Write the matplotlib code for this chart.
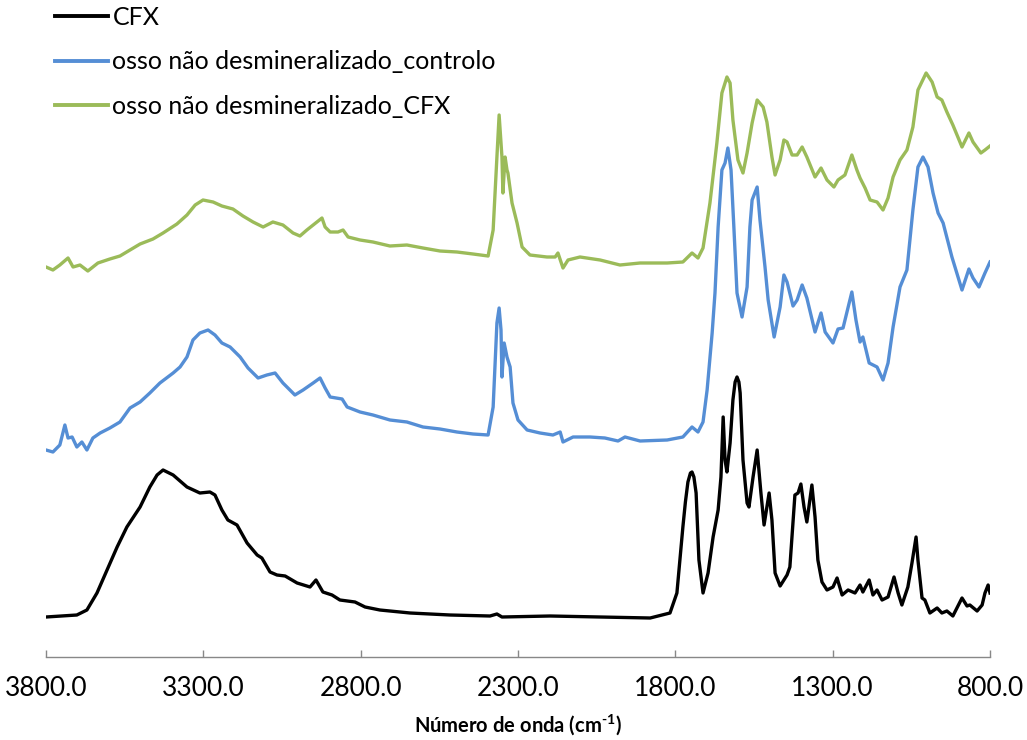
import matplotlib
matplotlib.use("Agg")
import matplotlib.pyplot as plt

# ---------------- data (wavenumber in cm-1, absorbance in arbitrary units) -------------
cfx_wn = [3800, 3702, 3670, 3638, 3606, 3574, 3543, 3501, 3470, 3447, 3428, 3396, 3352, 3311,
          3279, 3263, 3241, 3222, 3193, 3161, 3129, 3114, 3088, 3066, 3040, 3002, 2961, 2942,
          2920, 2891, 2866, 2818, 2786, 2739, 2643, 2516, 2389, 2367, 2351, 2198, 2039, 1880,
          1817, 1795, 1776, 1768, 1760, 1752, 1747, 1741, 1734, 1725, 1712, 1696, 1680, 1664, 1655, 1648, 1642,
          1636, 1626, 1617, 1610, 1604, 1598, 1594, 1585, 1572, 1566, 1553, 1540, 1528, 1518, 1502, 1493,
          1483, 1467, 1445, 1436, 1420, 1410, 1401, 1391, 1382, 1366, 1356, 1347, 1334, 1318,
          1299, 1286, 1270, 1251, 1229, 1213, 1204, 1184, 1172, 1159, 1143, 1124, 1105, 1092,
          1080, 1061, 1048, 1035, 1029, 1016, 1007, 991, 968, 953, 937, 918, 889, 873, 864,
          841, 825, 816, 806, 800]
cfx_ab = [7.0, 7.4, 8.4, 11.8, 16.4, 21.0, 25.0, 29.0, 33.0, 35.4, 36.4, 35.4, 33.0, 31.8,
          32.0, 31.4, 28.4, 26.4, 25.4, 21.8, 19.4, 18.8, 16.0, 15.4, 15.2, 13.8, 13.0, 14.4,
          12.0, 11.4, 10.4, 10.0, 9.0, 8.4, 7.8, 7.4, 7.2, 7.6, 7.0, 7.2, 7.0, 6.8,
          7.8, 11.8, 25.0, 30.0, 34.0, 35.8, 36.0, 35.0, 31.8, 18.4, 11.8, 15.8, 23.0, 28.4, 35.0, 47.0, 38.4,
          36.0, 41.8, 50.4, 54.0, 55.0, 54.0, 51.8, 38.4, 29.8, 29.0, 35.0, 40.4, 31.8, 25.4, 31.8, 26.4,
          15.8, 13.2, 15.4, 17.0, 31.4, 31.8, 33.6, 29.0, 26.0, 33.4, 27.0, 18.4, 14.0, 12.4,
          13.0, 14.8, 11.4, 12.4, 11.8, 13.4, 12.0, 14.4, 11.4, 12.4, 10.4, 11.0, 15.0, 11.8,
          9.4, 13.0, 17.8, 23.0, 18.4, 10.8, 10.4, 7.8, 8.8, 7.8, 8.2, 7.2, 10.8, 9.2, 9.4,
          8.2, 9.4, 11.8, 13.4, 11.8]

ctrl_wn = [3800, 3778, 3756, 3740, 3730, 3717, 3702, 3686, 3670, 3651, 3628, 3597, 3565, 3533,
           3501, 3470, 3438, 3396, 3374, 3352, 3333, 3311, 3285, 3263, 3241, 3215, 3183, 3158,
           3126, 3098, 3072, 3047, 3009, 2983, 2951, 2929, 2913, 2897, 2859, 2843, 2802, 2761,
           2707, 2653, 2602, 2548, 2494, 2443, 2395, 2379, 2367, 2360, 2354, 2351, 2344, 2335,
           2325, 2316, 2300, 2271, 2230, 2189, 2166, 2157, 2125, 2071, 2024, 1982, 1960, 1912,
           1826, 1776, 1747, 1728, 1712, 1699, 1683, 1674, 1664, 1652, 1642, 1633, 1623, 1614,
           1604, 1588, 1572, 1563, 1556, 1540, 1531, 1515, 1505, 1486, 1467, 1455, 1445, 1426,
           1413, 1397, 1382, 1356, 1337, 1324, 1299, 1283, 1267, 1239, 1226, 1213, 1204, 1184,
           1159, 1140, 1124, 1108, 1086, 1064, 1045, 1029, 1013, 997, 981, 965, 949, 921, 889,
           867, 854, 835, 816, 800]
ctrl_ab = [40.4, 40.0, 41.4, 45.4, 42.8, 43.0, 41.0, 42.0, 40.4, 42.8, 43.8, 44.8, 46.0, 48.8,
           50.0, 51.8, 53.8, 55.8, 57.0, 59.0, 62.4, 63.8, 64.4, 63.4, 61.8, 61.0, 59.0, 56.8,
           54.8, 55.4, 55.8, 53.8, 51.4, 52.4, 53.8, 54.8, 52.8, 51.0, 50.6, 49.0, 48.0, 47.4,
           46.4, 46.0, 45.0, 44.6, 44.0, 43.6, 43.4, 49.0, 65.8, 68.8, 64.4, 55.0, 61.8, 59.0,
           57.0, 49.8, 46.4, 44.4, 43.8, 43.4, 44.0, 42.0, 43.0, 43.0, 42.8, 42.2, 43.0, 42.2,
           42.4, 43.0, 45.0, 44.0, 46.0, 52.4, 63.8, 71.8, 85.0, 96.4, 97.8, 100.8, 96.4, 85.0,
           71.8, 67.0, 73.0, 85.0, 90.4, 93.0, 86.4, 77.0, 70.4, 63.0, 69.0, 75.4, 74.0, 69.2,
           70.4, 73.4, 70.8, 64.0, 67.8, 64.0, 61.8, 64.6, 64.8, 72.0, 66.4, 62.0, 63.0, 57.8,
           57.0, 54.4, 57.8, 65.0, 73.0, 76.4, 88.4, 97.0, 99.0, 97.0, 91.8, 87.8, 85.8, 79.0, 72.4,
           76.6, 74.8, 73.0, 75.8, 78.0]

cfxb_wn = [3800, 3778, 3756, 3730, 3714, 3692, 3667, 3635, 3597, 3565, 3533, 3501, 3460, 3428,
           3384, 3352, 3326, 3301, 3269, 3241, 3206, 3174, 3142, 3110, 3079, 3047, 3015, 2993,
           2971, 2939, 2923, 2913, 2897, 2872, 2856, 2840, 2802, 2761, 2707, 2653, 2602, 2548,
           2494, 2443, 2395, 2379, 2367, 2360, 2351, 2348, 2341, 2335, 2332, 2319, 2303, 2287,
           2262, 2208, 2182, 2173, 2157, 2141, 2103, 2039, 1976, 1912, 1826, 1776, 1747, 1728,
           1712, 1690, 1668, 1652, 1636, 1626, 1617, 1601, 1585, 1572, 1556, 1540, 1521, 1509,
           1493, 1483, 1467, 1455, 1445, 1429, 1413, 1397, 1382, 1356, 1337, 1318, 1296, 1283,
           1261, 1239, 1223, 1213, 1197, 1181, 1159, 1140, 1124, 1108, 1086, 1064, 1045, 1029,
           1003, 984, 968, 953, 937, 918, 889, 867, 854, 829, 816, 800]
cfxb_ab = [77.0, 76.4, 77.4, 78.8, 77.0, 77.4, 76.2, 77.8, 78.6, 79.2, 80.4, 81.6, 82.6, 83.8,
           85.6, 87.4, 89.4, 90.4, 90.0, 89.2, 88.6, 87.2, 86.0, 85.0, 86.0, 85.4, 83.8, 83.2,
           84.4, 86.0, 86.8, 85.0, 84.0, 84.0, 84.4, 83.0, 82.4, 82.0, 81.2, 81.4, 80.8, 80.2,
           80.0, 79.6, 79.2, 84.4, 99.0, 107.4, 99.0, 91.8, 99.0, 96.4, 95.8, 89.8, 85.8, 81.0,
           79.4, 79.0, 79.0, 79.8, 76.8, 78.4, 79.0, 78.4, 77.4, 77.8, 77.8, 78.0, 79.8, 78.8,
           80.8, 89.8, 101.8, 111.8, 115.0, 113.8, 106.4, 98.4, 95.8, 99.8, 105.8, 110.4, 109.0, 106.0,
           99.0, 95.4, 98.4, 102.4, 102.0, 99.4, 99.4, 101.0, 99.0, 95.0, 96.8, 94.4, 93.0, 94.4,
           95.4, 99.4, 96.4, 94.8, 92.8, 90.4, 90.0, 88.4, 90.8, 95.0, 98.4, 100.4, 105.0, 112.4,
           115.8, 114.0, 111.0, 110.4, 108.0, 105.4, 101.0, 103.8, 102.0, 99.8, 100.4, 101.2]

series_names = ["CFX", "osso não desmineralizado_controlo", "osso não desmineralizado_CFX"]
series_colors = ["#000000", "#558ED5", "#9BBB59"]
x_ticks = [3800, 3300, 2800, 2300, 1800, 1300, 800]
x_label = r"Número de onda (cm$^{\text{-1}}$)"

# ---------------- figure -------------
plt.rcParams['font.family'] = ['Lato', 'DejaVu Sans']
plt.rcParams['mathtext.fontset'] = 'custom'
plt.rcParams['mathtext.rm'] = 'Lato:bold'
plt.rcParams['mathtext.default'] = 'rm'

W, H = 1027, 740
fig = plt.figure(figsize=(W / 100, H / 100), dpi=100)
ax = fig.add_axes([46 / W, (H - 657) / H, (990 - 46) / W, (657 - 2) / H])

for wn, ab, name, col in zip([cfx_wn, ctrl_wn, cfxb_wn], [cfx_ab, ctrl_ab, cfxb_ab],
                             series_names, series_colors):
    ax.plot(wn, ab, color=col, lw=2.4, label=name, solid_joinstyle='round')

ax.set_xlim(3800, 800)
ax.set_ylim(-1, 130)
ax.set_xticks(x_ticks)
ax.set_xticklabels([f"{v:.1f}" for v in x_ticks], fontsize=19)
ax.set_yticks([])
for s in ['top', 'right', 'left']:
    ax.spines[s].set_visible(False)
ax.spines['bottom'].set_color('#888888')
ax.spines['bottom'].set_linewidth(1.0)
ax.tick_params(axis='x', direction='in', length=5, width=1.0, color='#888888', pad=14)
ax.set_xlabel(x_label, fontsize=14.5, fontweight='bold', labelpad=8)

leg = fig.legend(loc='upper left', bbox_to_anchor=(55 / W, 1 - 6 / H), frameon=False,
                 fontsize=18, handlelength=2.1, handletextpad=0.2, labelspacing=0.85,
                 borderaxespad=0, borderpad=0)
for h in leg.get_lines():
    h.set_linewidth(2.8)

fig.savefig("out.png", dpi=100)
